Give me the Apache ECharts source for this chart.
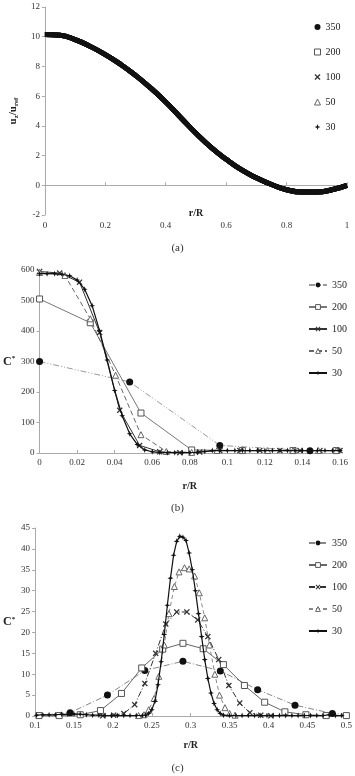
<!DOCTYPE html>
<html>
<head>
<meta charset="utf-8">
<script src="https://cdn.jsdelivr.net/npm/echarts@6/dist/echarts.min.js"></script>
<style>
  body { margin: 0; background: #fff; }
  .ch { position: absolute; left: 0; width: 355px; }
</style>
</head>
<body>
<div id="ca" class="ch" style="top:0;height:260px"></div>
<div id="cb" class="ch" style="top:260px;height:260px"></div>
<div id="cc" class="ch" style="top:520px;height:256px"></div>
<script>
// (a) axial velocity profile, all five runs lie on one curve
var names = ['350', '200', '100', '50', '30'];
var aX = [0, 0.05, 0.1, 0.15, 0.2, 0.25, 0.3, 0.35, 0.4, 0.45, 0.5, 0.55, 0.6, 0.65, 0.7, 0.75, 0.8, 0.85, 0.9, 0.95, 1];
var aY = [10.15, 10.1, 9.8, 9.35, 8.8, 8.15, 7.4, 6.55, 5.6, 4.55, 3.5, 2.55, 1.75, 1.05, 0.5, 0.05, -0.3, -0.45, -0.45, -0.3, 0];

// (b)
var b350X = [0, 0.048, 0.096, 0.144];
var b350Y = [300, 233, 25, 7];
var b200X = [0, 0.027, 0.054, 0.081, 0.108, 0.135, 0.158];
var b200Y = [505, 427, 131, 10, 8, 8, 8];
var b100X = [0, 0.0107, 0.0213, 0.032, 0.0427, 0.0533, 0.064, 0.0747, 0.0853, 0.096, 0.1067, 0.1173, 0.128, 0.1387, 0.1493, 0.16];
var b100Y = [595, 590, 560, 395, 140, 25, 4, 1, 3, 8, 8, 8, 8, 8, 8, 8];
var b50X = [0, 0.0135, 0.027, 0.0405, 0.054, 0.0675, 0.081, 0.0945, 0.108, 0.1215, 0.135, 0.1485, 0.158];
var b50Y = [592, 582, 440, 255, 60, 5, 2, 8, 8, 8, 8, 8, 8];
var b30X = [0, 0.004, 0.008, 0.012, 0.016, 0.02, 0.024, 0.028, 0.032, 0.036, 0.04, 0.044, 0.048, 0.052, 0.056, 0.06, 0.064, 0.068, 0.072, 0.076, 0.08,
            0.084, 0.088, 0.092, 0.096, 0.1, 0.104, 0.108, 0.112, 0.116, 0.12, 0.124, 0.128, 0.132, 0.136, 0.14, 0.144, 0.148, 0.152, 0.156, 0.16];
var b30Y = [588, 588, 588, 586, 581, 567, 537, 483, 400, 305, 205, 122, 63, 28, 10, 4, 2, 1, 1, 1, 1,
            2, 5, 8, 8, 8, 8, 8, 8, 8, 8, 8, 8, 8, 8, 8, 8, 8, 8, 8, 8];

// (c)
var c350X = [0.097, 0.145, 0.193, 0.241, 0.29, 0.338, 0.386, 0.434, 0.482, 0.53];
var c350Y = [0.1, 0.8, 5, 10.9, 13.1, 10.8, 6.3, 2.6, 0.6, 0.1];
var c200X = [0.105, 0.131, 0.158, 0.184, 0.211, 0.237, 0.264, 0.29, 0.316, 0.342, 0.369, 0.395, 0.421, 0.448, 0.474, 0.5];
var c200Y = [0.1, 0.1, 0.3, 1.3, 5.4, 11.5, 16, 17.4, 16.1, 12.3, 7.3, 3.3, 1.0, 0.3, 0.1, 0.1];
var c100X = [0.187, 0.201, 0.214, 0.228, 0.241, 0.255, 0.268, 0.282, 0.295, 0.309, 0.322, 0.336, 0.349, 0.363, 0.376, 0.39, 0.403];
var c100Y = [0.05, 0.2, 0.6, 2.7, 7.8, 15, 22, 24.9, 24.9, 23, 19, 13.5, 7.3, 3.1, 0.8, 0.2, 0.05];
var c50X = [0.233, 0.24, 0.246, 0.253, 0.259, 0.266, 0.272, 0.279, 0.285, 0.292, 0.298, 0.305, 0.311, 0.318, 0.324, 0.331, 0.337, 0.344, 0.35, 0.357];
var c50Y = [0.1, 0.3, 1.5, 4.2, 9.5, 17, 24.5, 31, 34.5, 35.5, 35.2, 33.5, 29.5, 23.5, 17, 10, 5, 2, 0.6, 0.2];
var c30X = [0.102, 0.11, 0.118, 0.126, 0.134, 0.142, 0.15, 0.158, 0.166, 0.174, 0.182, 0.19, 0.198, 0.206, 0.214, 0.222, 0.23, 0.238,
            0.242, 0.246, 0.25, 0.254, 0.258, 0.262, 0.266, 0.27, 0.274, 0.278, 0.282, 0.286, 0.29, 0.294, 0.298, 0.302, 0.306, 0.31, 0.314, 0.318, 0.322, 0.326, 0.33, 0.334, 0.338, 0.342,
            0.35, 0.358, 0.366, 0.374, 0.382, 0.39, 0.398, 0.406, 0.414, 0.422, 0.43, 0.438, 0.446, 0.454, 0.462, 0.47, 0.478, 0.486, 0.494];
var c30Y = [0.2, 0.3, 0.3, 0.3, 0.4, 0.4, 0.5, 0.4, 0.3, 0.2, 0.2, 0.1, 0.1, 0.1, 0.1, 0.1, 0.1, 0.1,
            0.2, 0.6, 1.5, 3.5, 7.5, 13, 19.5, 26.5, 33, 38.5, 41.8, 43, 42.8, 42, 39, 35, 30, 24.5, 19, 13.5, 9, 5.5, 3, 1.5, 0.6, 0.2,
            0.1, 0.1, 0.1, 0.1, 0.1, 0.1, 0.1, 0.1, 0.1, 0.1, 0.1, 0.1, 0.1, 0.1, 0.1, 0.1, 0.3, 0.1, 0.1];

var FF = 'Liberation Serif';
var xMark = 'path://M0,1.5L1.5,0L5,3.5L8.5,0L10,1.5L6.5,5L10,8.5L8.5,10L5,6.5L1.5,10L0,8.5L3.5,5Z';
var star = 'path://M5,0L6.3,3.7L10,5L6.3,6.3L5,10L3.7,6.3L0,5L3.7,3.7Z';

function zip(xs, ys) { return xs.map(function(x, i) { return [x, ys[i]]; }); }

var marks = {
  '350': { symbol: 'circle', size: 7, item: { color: '#111' } },
  '200': { symbol: 'rect', size: 6, item: { color: '#fff', borderColor: '#555', borderWidth: 1 } },
  '100': { symbol: xMark, size: 6, item: { color: '#333' } },
  '50':  { symbol: 'triangle', size: 6, item: { color: '#fff', borderColor: '#666', borderWidth: 1 } },
  '30':  { symbol: star, size: 6, item: { color: '#111' } }
};

function mkLine(name, xs, ys, line) {
  var m = marks[name];
  return { name: name, type: 'line', data: zip(xs, ys), symbol: m.symbol, symbolSize: m.size,
           itemStyle: m.item, lineStyle: line, z: name === '30' ? 5 : 3, animation: false };
}

function axisX(min, max, step, gap, margin) {
  return { type: 'value', min: min, max: max, interval: step, name: 'r/R', nameLocation: 'middle', nameGap: gap,
           nameMoveOverlap: false,
           nameTextStyle: { fontFamily: FF, fontWeight: 'bold', fontSize: 10, color: '#222' },
           axisLine: { lineStyle: { color: '#aaa' } }, axisTick: { inside: true, length: 3, lineStyle: { color: '#aaa' } },
           axisLabel: { fontFamily: FF, fontSize: 9, color: '#333', margin: margin }, splitLine: { show: false } };
}
function axisY(min, max, step, name, gap, rot, rich) {
  return { type: 'value', min: min, max: max, interval: step, name: name, nameLocation: 'middle', nameGap: gap, nameRotate: rot,
           nameTextStyle: { fontFamily: FF, fontWeight: 'bold', color: '#222', rich: rich },
           axisLine: { show: true, lineStyle: { color: '#aaa' } }, axisTick: { show: true, length: 3, lineStyle: { color: '#aaa' } },
           axisLabel: { fontFamily: FF, fontSize: 9, color: '#333', margin: 5 }, splitLine: { show: false } };
}
function caption(t) {
  return { text: t, left: 'center', top: 238, textStyle: { fontFamily: FF, fontSize: 11, fontWeight: 'normal', color: '#333' } };
}
function legItems() {
  return names.map(function(n) { return { name: n, itemStyle: marks[n].item }; });
}

// ---- (a)
var chA = echarts.init(document.getElementById('ca'));
var legA = names.map(function(n) { return { name: n, icon: marks[n].symbol, itemStyle: marks[n].item }; });
chA.setOption({
  animation: false,
  title: caption('(a)'),
  grid: { left: 30, right: 8, top: 7, bottom: 45 },
  legend: { data: legA, orient: 'vertical', left: 309, top: 17, itemWidth: 6, itemHeight: 6, itemGap: 15,
            textStyle: { fontFamily: FF, fontSize: 10, color: '#222' } },
  xAxis: axisX(0, 1, 0.2, -7, 6),
  yAxis: axisY(-2, 12, 2, '{u|u}{s|z}{u|/u}{s|ref}', 15, 90,
               { u: { fontFamily: FF, fontSize: 11, fontWeight: 'bold', color: '#222' },
                 s: { fontFamily: FF, fontSize: 7, fontWeight: 'bold', color: '#222', padding: [6, 0, 0, 0] } }),
  series: names.map(function(n) {
    return { name: n, type: 'line', data: zip(aX, aY), smooth: true, showSymbol: false, symbol: marks[n].symbol,
             itemStyle: marks[n].item, lineStyle: { color: '#111', width: 5 }, animation: false };
  })
});

var richC = { c: { fontFamily: FF, fontSize: 12, fontWeight: 'bold', color: '#222' },
              s: { fontFamily: FF, fontSize: 7, fontWeight: 'bold', color: '#222', padding: [0, 0, 6, 0] } };
function legBC(top) {
  return { data: legItems(), orient: 'vertical', left: 303, top: top, itemWidth: 18, itemHeight: 6, itemGap: 12,
           textStyle: { fontFamily: FF, fontSize: 10, color: '#222' } };
}

// ---- (b)
var chB = echarts.init(document.getElementById('cb'));
chB.setOption({
  animation: false,
  title: caption('(b)'),
  grid: { left: 33, right: 15, top: 10, bottom: 67 },
  legend: legBC(15),
  xAxis: axisX(0, 0.16, 0.02, 28, 5),
  yAxis: axisY(0, 600, 100, '{c|C}{s|*}', 22, 0, richC),
  series: [
    mkLine('350', b350X, b350Y, { color: '#999', width: 1, type: [6, 2, 1, 2, 1, 2] }),
    mkLine('200', b200X, b200Y, { color: '#777', width: 1 }),
    mkLine('100', b100X, b100Y, { color: '#333', width: 1 }),
    mkLine('50', b50X, b50Y, { color: '#666', width: 1, type: [5, 3] }),
    mkLine('30', b30X, b30Y, { color: '#111', width: 1.2 })
  ]
});

// ---- (c)
var chC = echarts.init(document.getElementById('cc'));
chC.setOption({
  animation: false,
  title: caption('(c)'),
  grid: { left: 30, right: 7, top: 8, bottom: 60 },
  legend: legBC(13),
  xAxis: axisX(0.1, 0.5, 0.05, 24, 5),
  yAxis: axisY(0, 45, 5, '{c|C}{s|*}', 18, 0, richC),
  series: [
    mkLine('350', c350X, c350Y, { color: '#888', width: 1, type: [6, 2, 1, 2] }),
    mkLine('200', c200X, c200Y, { color: '#666', width: 1 }),
    mkLine('100', c100X, c100Y, { color: '#333', width: 1, type: [6, 2, 1, 2] }),
    mkLine('50', c50X, c50Y, { color: '#888', width: 1, type: [4, 3] }),
    mkLine('30', c30X, c30Y, { color: '#111', width: 1.2 })
  ]
});
</script>
</body>
</html>
